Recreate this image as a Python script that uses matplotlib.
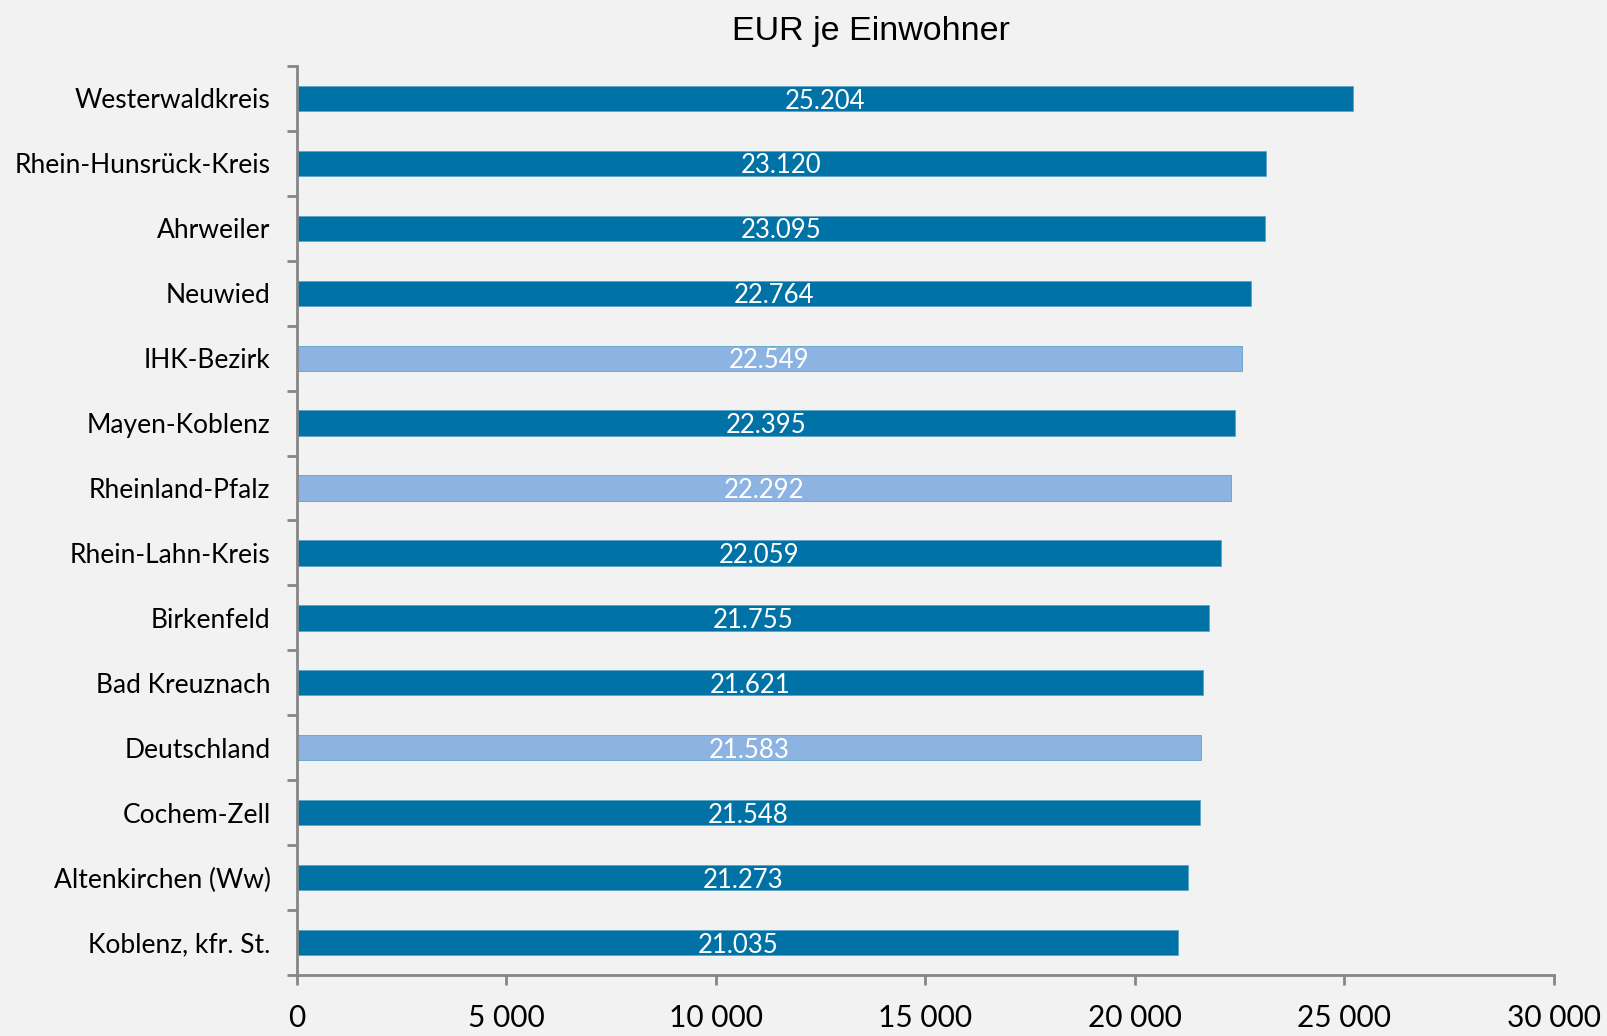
import numpy as np
import matplotlib.pyplot as plt
from matplotlib.ticker import FuncFormatter

# Werte von oben nach unten
regions = ['Westerwaldkreis', 'Rhein-Hunsrück-Kreis', 'Ahrweiler', 'Neuwied',
           'IHK-Bezirk', 'Mayen-Koblenz', 'Rheinland-Pfalz', 'Rhein-Lahn-Kreis',
           'Birkenfeld', 'Bad Kreuznach', 'Deutschland', 'Cochem-Zell',
           'Altenkirchen (Ww)', 'Koblenz, kfr. St.']
values = [25204, 23120, 23095, 22764, 22549, 22395, 22292, 22059,
          21755, 21621, 21583, 21548, 21273, 21035]
value_labels = ['25.204', '23.120', '23.095', '22.764', '22.549', '22.395', '22.292',
                '22.059', '21.755', '21.621', '21.583', '21.548', '21.273', '21.035']
highlight = ['IHK-Bezirk', 'Rheinland-Pfalz', 'Deutschland']

dark = '#0072a5'
light = '#8db3e2'
bg = '#f2f2f2'
axis_col = '#868686'

fig = plt.figure(figsize=(16.08, 10.36), dpi=100, facecolor=bg)
ax = fig.add_axes([0.1847, 0.0589, 0.9664 - 0.1847, 0.9363 - 0.0589])
ax.set_facecolor(bg)

y = np.arange(len(regions))
colors = [light if r in highlight else dark for r in regions]
ax.barh(y, values, height=0.39, color=colors, edgecolor='#5fa3c4', linewidth=0.6)

for yi, v, lab in zip(y, values, value_labels):
    ax.text(v / 2, yi + 0.04, lab, ha='center', va='center', color='white',
            fontsize=18.5, family='Lato')

ax.set_ylim(len(regions) - 0.5, -0.5)
ax.set_xlim(0, 30000)
ax.set_xticks(np.arange(0, 30001, 5000))
ax.xaxis.set_major_formatter(FuncFormatter(lambda v, p: f'{int(v):,}'.replace(',', ' ')))

ax.set_yticks(y)
ax.set_yticklabels(regions, family='Lato', fontsize=19)
ax.set_yticks(np.arange(-0.5, len(regions)), minor=True)
ax.tick_params(axis='y', which='major', length=0, pad=19)
ax.tick_params(axis='y', which='minor', length=7, width=2, color=axis_col, direction='out')
ax.tick_params(axis='x', length=7, width=2, color=axis_col, direction='out', pad=14,
               labelsize=21.5)
for t in ax.get_xticklabels():
    t.set_family('Lato')

for s in ['top', 'right']:
    ax.spines[s].set_visible(False)
for s in ['left', 'bottom']:
    ax.spines[s].set_color(axis_col)
    ax.spines[s].set_linewidth(2)

fig.text(0.5417, 0.970, 'EUR je Einwohner', ha='center', va='center',
         fontsize=24.5, family='Liberation Sans')

fig.savefig('out.png', dpi=100, facecolor=bg)
